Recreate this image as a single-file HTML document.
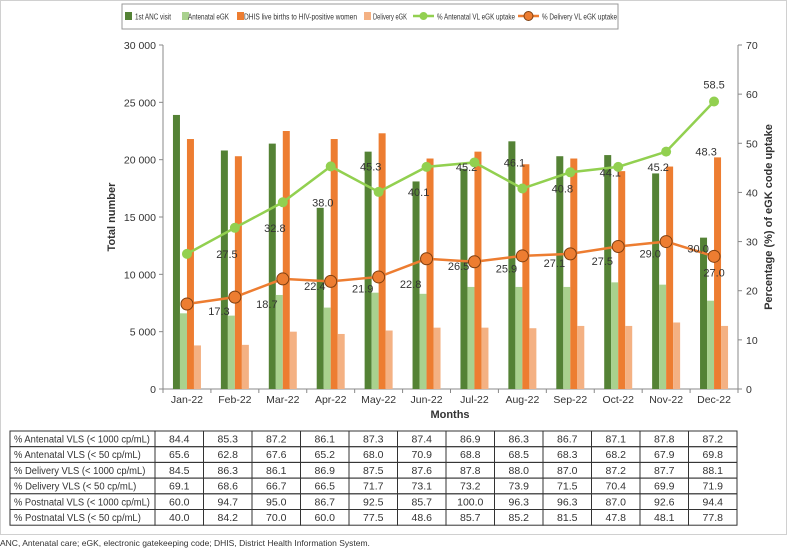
<!DOCTYPE html>
<html><head><meta charset="utf-8"><style>
body{margin:0;background:#fff;font-family:"Liberation Sans",sans-serif;}
svg text{font-family:"Liberation Sans",sans-serif;fill:#333;}
</style></head><body>
<svg id="c" width="788" height="550" viewBox="0 0 788 550" xmlns="http://www.w3.org/2000/svg">
<rect x="0.5" y="0.5" width="786" height="534" fill="#fff" stroke="#d0d0d0"/>
<g id="legend">
<rect x="122" y="4" width="496" height="25" fill="#fff" stroke="#999"/>
</g>
<g id="plot"></g>
<text x="115" y="217" font-size="11" font-weight="bold" text-anchor="middle" transform="rotate(-90 115 217)">Total number</text>
<text x="772" y="217" font-size="11" font-weight="bold" text-anchor="middle" transform="rotate(-90 772 217)">Percentage (%) of eGK code uptake</text>
<text x="450" y="418" font-size="11" font-weight="bold" text-anchor="middle">Months</text>
<g id="table"></g>
<text x="0" y="546" font-size="8.5">ANC, Antenatal care; eGK, electronic gatekeeping code; DHIS, District Health Information System.</text>
</svg>
<script>
const months=["Jan-22","Feb-22","Mar-22","Apr-22","May-22","Jun-22","Jul-22","Aug-22","Sep-22","Oct-22","Nov-22","Dec-22"];
const ancVisit=[23900,20800,21400,15800,20700,18100,19200,21600,20300,20400,18800,13200];
const antenatalEgk=[6600,6400,8200,7100,8400,8300,8900,8900,8900,9300,9100,7700];
const dhisBirths=[21800,20300,22500,21800,22300,20100,20700,19600,20100,19000,19400,20200];
const deliveryEgk=[3800,3850,5000,4800,5100,5350,5350,5300,5500,5500,5800,5500];
const antenatalUptake=[27.5,32.8,38.0,45.3,40.1,45.2,46.1,40.8,44.1,45.2,48.3,58.5];
const deliveryUptake=[17.3,18.7,22.4,21.9,22.8,26.5,25.9,27.1,27.5,29.0,30.0,27.0];
const leftTicks=[0,5000,10000,15000,20000,25000,30000];
const leftTickLabels=["0","5 000","10 000","15 000","20 000","25 000","30 000"];
const rightTicks=[0,10,20,30,40,50,60,70];
const rowLabels=["% Antenatal VLS (< 1000 cp/mL)","% Antenatal VLS (< 50 cp/mL)","% Delivery VLS (< 1000 cp/mL)","% Delivery VLS (< 50 cp/mL)","% Postnatal VLS (< 1000 cp/mL)","% Postnatal VLS (< 50 cp/mL)"];
const row1=["84.4","85.3","87.2","86.1","87.3","87.4","86.9","86.3","86.7","87.1","87.8","87.2"];
const row2=["65.6","62.8","67.6","65.2","68.0","70.9","68.8","68.5","68.3","68.2","67.9","69.8"];
const row3=["84.5","86.3","86.1","86.9","87.5","87.6","87.8","88.0","87.0","87.2","87.7","88.1"];
const row4=["69.1","68.6","66.7","66.5","71.7","73.1","73.2","73.9","71.5","70.4","69.9","71.9"];
const row5=["60.0","94.7","95.0","86.7","92.5","85.7","100.0","96.3","96.3","87.0","92.6","94.4"];
const row6=["40.0","84.2","70.0","60.0","77.5","48.6","85.7","85.2","81.5","47.8","48.1","77.8"];

const NS="http://www.w3.org/2000/svg";
function mk(tag,attrs,parent,txt){const e=document.createElementNS(NS,tag);for(const k in attrs)e.setAttribute(k,attrs[k]);if(txt!==undefined)e.textContent=txt;parent.appendChild(e);return e;}
const X0=163,X1=738,Y0=389,Y1=45;
const bw=(X1-X0)/months.length;
const yL=v=>Y0-(v/30000)*(Y0-Y1);
const yR=v=>Y0-(v/70)*(Y0-Y1);
const xc=i=>X0+bw*(i+0.5);
const plot=document.getElementById('plot');
let a=mk('line',{x1:X0,y1:Y1,x2:X0,y2:Y0,stroke:'#888'},plot);

a=mk('line',{x1:X1,y1:Y1,x2:X1,y2:Y0,stroke:'#888'},plot);

a=mk('line',{x1:X0,y1:Y0,x2:X1,y2:Y0,stroke:'#888'},plot);

leftTicks.forEach((v,i)=>{mk('line',{x1:X0-4,x2:X0,y1:yL(v),y2:yL(v),stroke:'#888'},plot);
 const t=mk('text',{x:X0-7,y:yL(v)+4,'font-size':10.5,'text-anchor':'end'},plot,leftTickLabels[i]);
 });
rightTicks.forEach(v=>{mk('line',{x1:X1,x2:X1+4,y1:yR(v),y2:yR(v),stroke:'#888'},plot);
 const t=mk('text',{x:X1+8,y:yR(v)+4,'font-size':10.5},plot,String(v));
 });
months.forEach((m,i)=>{mk('line',{x1:X0+bw*i,x2:X0+bw*i,y1:Y0,y2:Y0+4,stroke:'#888'},plot);
 const t=mk('text',{x:xc(i),y:Y0+14,'font-size':10.5,'text-anchor':'middle'},plot,m);
 });
mk('line',{x1:X1,x2:X1,y1:Y0,y2:Y0+4,stroke:'#888'},plot);
const series=[[ancVisit,'#548235','bar-anc-visit'],[antenatalEgk,'#a9d18e','bar-antenatal-egk'],[dhisBirths,'#ed7d31','bar-dhis-births'],[deliveryEgk,'#f4b183','bar-delivery-egk']];
series.forEach((s,k)=>{s[0].forEach((v,i)=>{const x=xc(i)-14+k*7;
 const r=mk('rect',{x:x,y:yL(v),width:7,height:Y0-yL(v),fill:s[1]},plot);
 });});
function line(vals,color,name,filled,r,lblDx,lblDy){
 const pts=vals.map((v,i)=>xc(i)+','+yR(v)).join(' ');
 const p=mk('polyline',{points:pts,fill:'none',stroke:color,'stroke-width':2.5},plot);
 
 vals.forEach((v,i)=>{const c=mk('circle',{cx:xc(i),cy:yR(v),r:r,fill:color,stroke:filled?color:'#7f3f10','stroke-width':filled?0:1},plot);
  
  let dx=lblDx,dy=lblDy;if(i===vals.length-1){dx=0;dy=name==='antenatal-uptake'?-13:20;}
  const t=mk('text',{x:xc(i)+dx,y:yR(v)+dy,'font-size':11,'text-anchor':'middle'},plot,v.toFixed(1));
  });
}
line(antenatalUptake,'#92d050','antenatal-uptake',true,5,40,4);
line(deliveryUptake,'#ed7d31','delivery-uptake',false,6,32,11);
const lg=document.getElementById('legend');
const items=[['sq','#548235','1st ANC visit',125,135,36],['sq','#a9d18e','Antenatal eGK',182,188,41],['sq','#ed7d31','DHIS live births to HIV-positive women',237,244,113],['sq','#f4b183','Delivery eGK',364,373,34],['ln','#92d050','% Antenatal VL eGK uptake',413,437,78],['ln2','#ed7d31','% Delivery VL eGK uptake',518,542,75]];
items.forEach(it=>{const g=mk('g',{},lg);
 if(it[0]==='sq'){mk('rect',{x:it[3],y:12,width:7,height:8,fill:it[1]},g);}
 else{mk('line',{x1:it[3],x2:it[3]+21,y1:16,y2:16,stroke:it[1],'stroke-width':2.5},g);
  mk('circle',{cx:it[3]+10.5,cy:16,r:it[0]==='ln'?3.5:4.5,fill:it[1],stroke:it[0]==='ln'?it[1]:'#7f3f10'},g);}
 mk('text',{x:it[4],y:19.5,'font-size':8.5,textLength:it[5],lengthAdjust:'spacingAndGlyphs'},g,it[2]);});
const tb=document.getElementById('table');
const rows=[row1,row2,row3,row4,row5,row6];
const TX=10,TY=431,RH=15.7,C0=145,CW=(737-155)/12;
rows.forEach((r,ri)=>{const y=TY+ri*RH;
 const c=mk('rect',{x:TX,y:y,width:C0,height:RH,fill:'#fff',stroke:'#333'},tb);
 
 mk('text',{x:TX+4,y:y+11.5,'font-size':10,textLength:rowLabels[ri].length*4.53,lengthAdjust:'spacingAndGlyphs'},tb,rowLabels[ri]);
 r.forEach((v,ci)=>{const x=155+ci*CW;
  const cc=mk('rect',{x:x,y:y,width:CW,height:RH,fill:'none',stroke:'#333'},tb);
  
  mk('text',{x:x+CW/2,y:y+11.5,'font-size':10.5,'text-anchor':'middle'},tb,v);});});
</script>
</body></html>
